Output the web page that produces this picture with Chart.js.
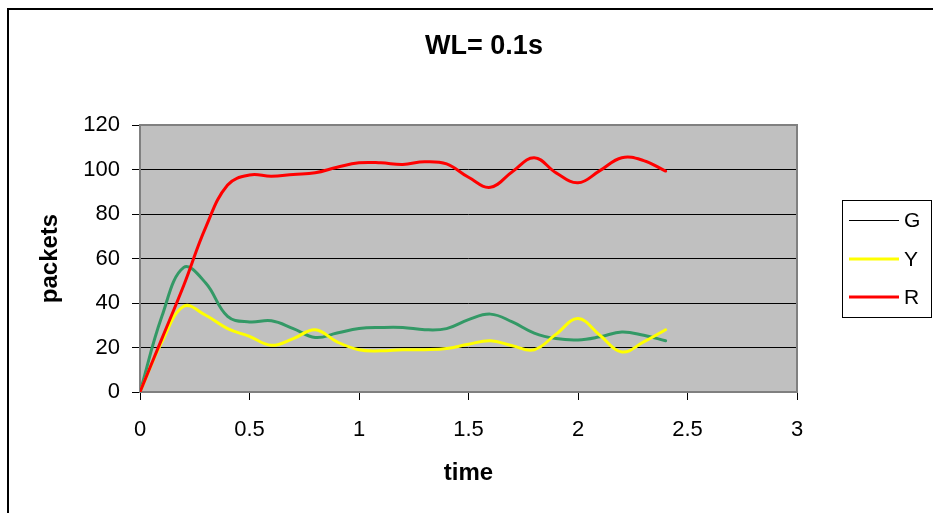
<!DOCTYPE html>
<html>
<head>
<meta charset="utf-8">
<script src="https://cdn.jsdelivr.net/npm/chart.js@4.4.1/dist/chart.umd.min.js"></script>
<style>
  html, body { margin: 0; padding: 0; background: #fff; }
  #wrap { width: 933px; height: 513px; }
</style>
</head>
<body>
<div id="wrap"><canvas id="wlChart" width="933" height="513"></canvas></div>
<script>
// sample times (s), one point every 0.1 s
const times = [0, 0.1, 0.2, 0.3, 0.4, 0.5, 0.6, 0.7, 0.8, 0.9, 1.0, 1.1, 1.2,
               1.3, 1.4, 1.5, 1.6, 1.7, 1.8, 1.9, 2.0, 2.1, 2.2, 2.3, 2.4];

// packets per queue
const gPackets = [0, 34, 56, 49, 34, 31.5, 32, 28.5, 24.5, 26.5, 28.5, 29, 29,
                  28, 28.5, 32.5, 35, 31.5, 26.5, 24, 23.4, 24.8, 27, 25.5, 23];
const yPackets = [0, 22.5, 38.5, 34.5, 28.5, 25, 21, 24, 28, 22.5, 19, 18.5, 19,
                  19, 19.5, 21.5, 23, 20.8, 19, 26, 33, 25.5, 18, 22.5, 28];
const rPackets = [0, 24, 48, 74, 93, 97.5, 97, 97.8, 98.5, 101, 103, 103, 102.3,
                  103.5, 102.5, 96.5, 92, 99, 105.3, 98.5, 94, 99.5, 105.3, 104, 99.3];

const seriesNames = ['G', 'Y', 'R'];
const yTicks = [0, 20, 40, 60, 80, 100, 120];
const xTicks = [0, 0.5, 1, 1.5, 2, 2.5, 3];
const chartTitle = 'WL= 0.1s';

const FONT = 'Liberation Sans, Arial, Helvetica, sans-serif';

const toPoints = vals => vals.map((v, i) => ({ x: times[i], y: v }));

// grey plot area, outer frame, title and the little legend box on the right
const excelLook = {
  id: 'excelLook',
  beforeDraw(chart) {
    const { ctx, chartArea: a } = chart;
    ctx.save();
    ctx.fillStyle = '#c0c0c0';
    ctx.fillRect(a.left, a.top, a.right - a.left, a.bottom - a.top);
    // outer frame
    ctx.strokeStyle = '#000';
    ctx.lineWidth = 2;
    ctx.beginPath();
    ctx.moveTo(8, 513);
    ctx.lineTo(8, 9);
    ctx.lineTo(933, 9);
    ctx.stroke();
    ctx.restore();
  },
  beforeDatasetsDraw(chart) {
    const { ctx, chartArea: a } = chart;
    ctx.save();
    ctx.strokeStyle = '#808080';
    ctx.lineWidth = 2;
    ctx.strokeRect(a.left, a.top, a.right - a.left, a.bottom - a.top);
    ctx.restore();
  },
  afterDraw(chart) {
    const { ctx } = chart;
    ctx.save();
    ctx.fillStyle = '#000';
    ctx.font = 'bold 27px ' + FONT;
    ctx.textAlign = 'center';
    ctx.textBaseline = 'middle';
    ctx.fillText(chartTitle, 484, 47);

    ctx.strokeStyle = '#000';
    ctx.lineWidth = 1;
    ctx.strokeRect(842.5, 200.5, 89, 117);
    ctx.font = '21px ' + FONT;
    ctx.textAlign = 'left';
    const rows = [220.5, 259, 297];
    chart.data.datasets.forEach((ds, i) => {
      ctx.strokeStyle = ds.legendColor;
      ctx.lineWidth = ds.legendWidth;
      ctx.beginPath();
      ctx.moveTo(849, rows[i]);
      ctx.lineTo(899, rows[i]);
      ctx.stroke();
      ctx.fillStyle = '#000';
      ctx.fillText(ds.label, 904, rows[i] + 1);
    });
    ctx.restore();
  }
};

new Chart(document.getElementById('wlChart'), {
  type: 'line',
  data: {
    datasets: [
      { label: seriesNames[0], data: toPoints(gPackets), borderColor: '#339966',
        borderWidth: 3, order: 2, legendColor: '#000', legendWidth: 1 },
      { label: seriesNames[1], data: toPoints(yPackets), borderColor: '#ffff00',
        borderWidth: 3, order: 1, legendColor: '#ffff00', legendWidth: 3 },
      { label: seriesNames[2], data: toPoints(rPackets), borderColor: '#ff0000',
        borderWidth: 3, order: 0, legendColor: '#ff0000', legendWidth: 3 }
    ]
  },
  options: {
    responsive: false,
    animation: false,
    layout: { padding: { left: 0, right: 136, top: 125, bottom: 0 } },
    elements: {
      point: { radius: 0 },
      line: { tension: 0.4, fill: false, borderCapStyle: 'round' }
    },
    plugins: {
      legend: { display: false },
      tooltip: { enabled: false },
      title: { display: false }
    },
    scales: {
      x: {
        type: 'linear',
        min: 0,
        max: 3,
        afterBuildTicks: s => { s.ticks = xTicks.map(v => ({ value: v })); },
        afterFit: s => { s.height = 121; },
        border: { display: false },
        grid: { drawOnChartArea: false, drawTicks: true, tickLength: 8, color: '#000' },
        ticks: {
          color: '#000',
          padding: 17,
          font: { family: FONT, size: 22 },
          callback: v => String(v)
        },
        title: {
          display: true,
          text: 'time',
          color: '#000',
          font: { family: FONT, size: 24, weight: 'bold' },
          padding: { top: 0, bottom: 25 }
        }
      },
      y: {
        min: 0,
        max: 120,
        afterBuildTicks: s => { s.ticks = yTicks.map(v => ({ value: v })); },
        afterFit: s => { s.width = 140; },
        border: { display: false },
        grid: { color: '#000', lineWidth: 1, tickLength: 8 },
        ticks: { color: '#000', padding: 12, font: { family: FONT, size: 22 } },
        title: {
          display: true,
          text: 'packets',
          color: '#000',
          font: { family: FONT, size: 24, weight: 'bold' },
          padding: { top: 36, bottom: 0 }
        }
      }
    }
  },
  plugins: [excelLook]
});
</script>
</body>
</html>
